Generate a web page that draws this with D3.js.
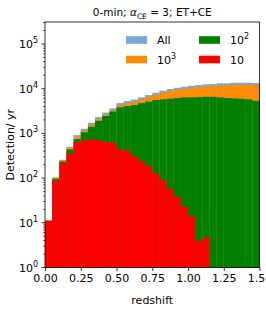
<!DOCTYPE html>
<html>
<head>
<meta charset="utf-8">
<script src="https://cdn.jsdelivr.net/npm/d3@7"></script>
<style>
  body { margin: 0; background: #fff; }
  text { font-family: "DejaVu Sans", sans-serif; fill: #000; }
</style>
</head>
<body>
<div id="chart"></div>
<script>
// bin edges (redshift)
var binEdges = [0.00, 0.05, 0.10, 0.15, 0.20, 0.25, 0.30, 0.35, 0.40, 0.45,
                0.50, 0.55, 0.60, 0.65, 0.70, 0.75, 0.80, 0.85, 0.90, 0.95,
                1.00, 1.05, 1.10, 1.15, 1.20, 1.25, 1.30, 1.35, 1.40, 1.45, 1.50];

// detections per bin
var allVals = [11.5, 104, 257, 501, 916, 1268, 1727, 2316, 2918, 3623,
               4762, 5280, 5706, 6390, 7190, 8100, 8980, 9800, 10480, 11030,
               11610, 12040, 12480, 12680, 13150, 13150, 13560, 13560, 13560, 13350];
var vals1e3 = [11.3, 102, 245, 470, 840, 1150, 1560, 2090, 2620, 3250,
               4250, 4750, 5120, 5750, 6480, 7300, 8100, 8850, 9450, 9950,
               10450, 10850, 11200, 11400, 11800, 11850, 12200, 12250, 12200, 12000];
var vals1e2 = [11, 96, 234, 439, 745, 1052, 1405, 1905, 2440, 3075,
               3820, 4080, 4300, 4760, 5140, 5560, 5770, 5950, 6160, 6390,
               6390, 6490, 6590, 6590, 6390, 6160, 6070, 5950, 5770, 5360];
var vals10 = [11, 87, 219, 350, 640, 697, 734, 708, 640, 620,
              439, 408, 310, 240, 186, 127, 90, 58, 38, 23,
              14, 3.9, 4.7, 0, 0, 0, 0, 0, 0, 0];

var xTicks = [0, 0.25, 0.5, 0.75, 1.0, 1.25, 1.5];
var yTicks = [1, 10, 100, 1000, 10000, 100000];

var width = 266, height = 316;
var mLeft = 45, mRight = 259.5, mTop = 22, mBottom = 267.5;

var svg = d3.select('#chart').append('svg')
    .attr('width', width)
    .attr('height', height);

var x = d3.scaleLinear().domain([0, 1.5]).range([mLeft, mRight]);
var y = d3.scaleLog().domain([1, 3.1e5]).range([mBottom, mTop]).clamp(true);

var series = [
  { name: 'All', vals: allVals, color: '#77a7d6' },
  { name: '10^3', vals: vals1e3, color: '#ff8c00' },
  { name: '10^2', vals: vals1e2, color: '#008000' },
  { name: '10', vals: vals10, color: '#ff0000' }
];

var plot = svg.append('g');
series.forEach(function(s) {
  plot.selectAll(null)
    .data(s.vals.map((v, i) => ({ v: v, x0: binEdges[i], x1: binEdges[i + 1] })).filter(d => d.v > 0))
    .enter()
    .append('rect')
    .attr('x', d => x(d.x0))
    .attr('width', d => x(d.x1) - x(d.x0) + 0.05)
    .attr('y', d => y(Math.max(d.v, 1)))
    .attr('height', d => y(1) - y(Math.max(d.v, 1)))
    .attr('fill', s.color);
});

// x axis
var xAxis = d3.axisBottom(x).tickValues(xTicks).tickSize(3.5).tickPadding(3)
    .tickFormat(d3.format('.2f'));
var gx = svg.append('g').attr('transform', `translate(0,${mBottom})`).call(xAxis);
gx.select('.domain').remove();
gx.selectAll('text').style('font-size', '11px').style('font-family', '"DejaVu Sans", sans-serif');
gx.selectAll('line').attr('stroke-width', 0.8);

// y axis, log with minor ticks
var minor = [];
for (var e = 0; e < 6; e++) for (var m = 2; m < 10; m++) {
  var v = m * Math.pow(10, e);
  if (v < 3.1e5) minor.push(v);
}
svg.append('g').selectAll('line').data(minor).enter().append('line')
    .attr('x1', mLeft - 2).attr('x2', mLeft)
    .attr('y1', d => y(d)).attr('y2', d => y(d))
    .attr('stroke', '#000').attr('stroke-width', 0.6);

var gy = svg.append('g');
gy.selectAll('line').data(yTicks).enter().append('line')
    .attr('x1', mLeft - 3.5).attr('x2', mLeft)
    .attr('y1', d => y(d)).attr('y2', d => y(d))
    .attr('stroke', '#000').attr('stroke-width', 0.8);
var yl = gy.selectAll('text').data(yTicks).enter().append('text')
    .attr('x', mLeft - 7).attr('y', d => y(d) + 4)
    .attr('text-anchor', 'end')
    .style('font-size', '11px');
yl.append('tspan').text('10');
yl.append('tspan').attr('dy', -5).style('font-size', '8px').text(d => Math.round(Math.log10(d)));

// frame
svg.append('rect')
    .attr('x', mLeft).attr('y', mTop)
    .attr('width', mRight - mLeft).attr('height', mBottom - mTop)
    .attr('fill', 'none').attr('stroke', '#000').attr('stroke-width', 0.8);

// title
var title = svg.append('text')
    .attr('x', (mLeft + mRight) / 2).attr('y', 16)
    .attr('text-anchor', 'middle')
    .style('font-size', '10.5px');
title.append('tspan').text('0-min; ');
title.append('tspan').style('font-style', 'italic').text('\u03b1');
title.append('tspan').attr('dy', 2.5).style('font-size', '7.5px').text('CE');
title.append('tspan').attr('dy', -2.5).text(' = 3; ET+CE');

// axis labels
svg.append('text')
    .attr('x', (mLeft + mRight) / 2).attr('y', 304)
    .attr('text-anchor', 'middle')
    .style('font-size', '11px')
    .text('redshift');
svg.append('text')
    .attr('transform', `translate(14,${(mTop + mBottom) / 2}) rotate(-90)`)
    .attr('text-anchor', 'middle')
    .style('font-size', '11px')
    .text('Detection/ yr');

// legend
var legendItems = [
  { label: 'All', sup: null, color: '#77a7d6', col: 0, row: 0 },
  { label: '10', sup: '3', color: '#ff8c00', col: 0, row: 1 },
  { label: '10', sup: '2', color: '#008000', col: 1, row: 0 },
  { label: '10', sup: null, color: '#ff0000', col: 1, row: 1 }
];
var lg = svg.append('g');
legendItems.forEach(function(it) {
  var lx = 126 + it.col * 73, ly = 40 + it.row * 19.5;
  lg.append('rect').attr('x', lx).attr('y', ly - 3.8).attr('width', 21).attr('height', 7.6)
    .attr('fill', it.color);
  var t = lg.append('text').attr('x', lx + 31).attr('y', ly + 4).style('font-size', '11px');
  t.append('tspan').text(it.label);
  if (it.sup) t.append('tspan').attr('dy', -5).style('font-size', '8px').text(it.sup);
});
</script>
</body>
</html>
